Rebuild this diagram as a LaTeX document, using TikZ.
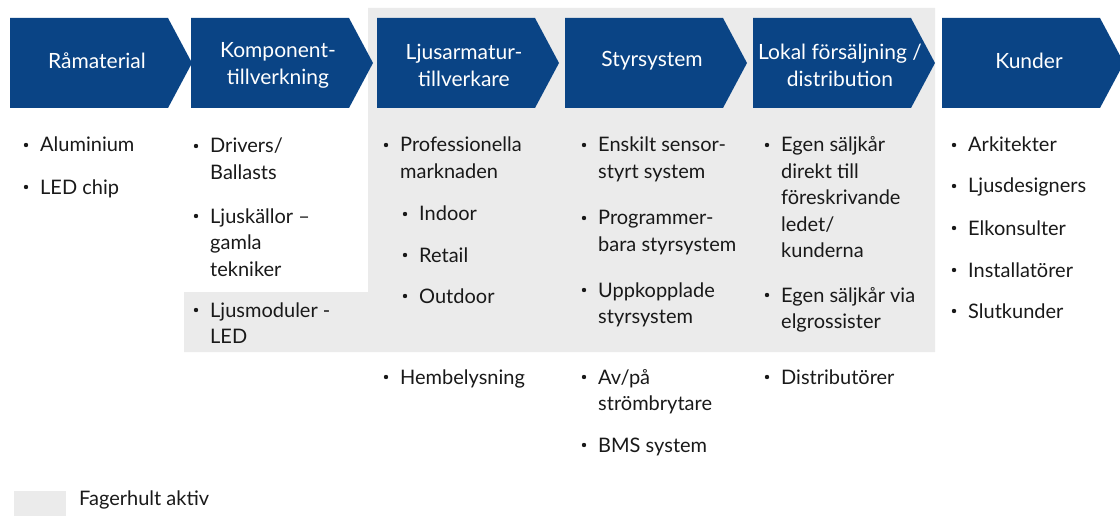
\documentclass[tikz,border=0pt]{standalone}
\usepackage{fontspec}
\setmainfont{Lato}
\usepackage{tikz}

\definecolor{fhblue}{RGB}{10,68,133}
\definecolor{fhgrey}{RGB}{235,235,235}
\definecolor{fhtext}{RGB}{25,25,25}

% one bullet entry: name, x, first baseline y, lines
\newcommand{\punkt}[4]{%
  \node[punkt] (#1) at (#2,#3) {\begin{tabular}[t]{@{}l@{}}#4\end{tabular}};
  \fill[fhtext] ([shift={(-14pt,7pt)}]#1.base west) circle [radius=2.2pt];}

\begin{document}
\begin{tikzpicture}[x=1pt,y=-1pt,
  head/.style={text=white,align=center,inner sep=0,font=\fontsize{21}{27}\selectfont},
  punkt/.style={anchor=base west,inner sep=0,text=fhtext,font=\fontsize{20}{26.5}\selectfont}]
 \path[use as bounding box] (0,0) rectangle (1120,516);

\fill[fhgrey] (368,8) -- (935,8) -- (935,352) -- (184,352) -- (184,292) -- (368,292) -- cycle;

\foreach \x/\y/\n/\t in {10/61/ram/Råmaterial, 191/65/komp/{Komponent-\\tillverkning},
    377/65/arm/{Ljusarmatur-\\tillverkare}, 565/61/styr/Styrsystem,
    753/65/lok/{Lokal försäljning /\\distribution}, 942/61/kund/Kunder}
{
	\fill[fhblue] (\x,18) -- ++(158,0) -- ++(24,45) -- ++(-24,45) -- ++(-158,0) -- cycle;
	\node[head] (\n) at (\x+87,\y) {\t};
}

\punkt{alu}{40}{152}{Aluminium}
\punkt{led}{40}{194}{LED chip}

\punkt{drv}{210}{153}{Drivers/\\Ballasts}
\punkt{ljk}{210}{223}{Ljuskällor –\\gamla\\tekniker}
\punkt{ljm}{210}{317}{Ljusmoduler -\\LED}

\punkt{pro}{400}{152}{Professionella\\marknaden}
\punkt{ind}{419}{221}{Indoor}
\punkt{ret}{419}{262}{Retail}
\punkt{out}{419}{303}{Outdoor}
\punkt{hem}{400}{384}{Hembelysning}

\punkt{ens}{598}{152}{Enskilt sensor-\\styrt system}
\punkt{prg}{598}{225}{Programmer-\\bara styrsystem}
\punkt{upp}{598}{297}{Uppkopplade\\styrsystem}
\punkt{avp}{598}{384}{Av/på\\strömbrytare}
\punkt{bms}{598}{452}{BMS system}

\punkt{eg1}{781}{152}{Egen säljkår\\direkt till\\föreskrivande\\ledet/\\kunderna}
\punkt{eg2}{781}{302}{Egen säljkår via\\elgrossister}
\punkt{dst}{781}{384}{Distributörer}

\punkt{ark}{968}{152}{Arkitekter}
\punkt{ljd}{968}{193}{Ljusdesigners}
\punkt{elk}{968}{235}{Elkonsulter}
\punkt{ins}{968}{277}{Installatörer}
\punkt{slu}{968}{318}{Slutkunder}

\fill[fhgrey] (14,491) rectangle (66,516);
\node[punkt] (akt) at (79,505) {Fagerhult aktiv};

\end{tikzpicture}
\end{document}
